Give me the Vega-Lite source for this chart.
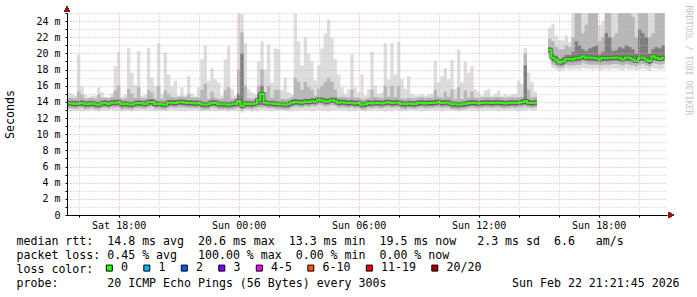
{
  "$schema": "https://vega.github.io/schema/vega-lite/v6.json",
  "width": 600,
  "height": 202,
  "autosize": "none",
  "padding": {"left": 67, "top": 13, "right": 30, "bottom": 82},
  "background": "white",
  "config": {"view": {"stroke": null}},
  "data": {"values": [
{"t":"2026-02-21T15:25:00Z","s":1,"lo":12.8,"l2":13.2,"l3":13.45,"md":13.8,"h3":14.15,"h2":14.5,"hi":15.2},
{"t":"2026-02-21T15:35:00Z","s":1,"lo":12.9,"l2":13.2,"l3":13.45,"md":13.8,"h3":14.15,"h2":14.5,"hi":15.0},
{"t":"2026-02-21T15:45:00Z","s":1,"lo":12.9,"l2":13.15,"l3":13.4,"md":13.75,"h3":14.1,"h2":14.45,"hi":14.8},
{"t":"2026-02-21T15:55:00Z","s":1,"lo":12.9,"l2":13.2,"l3":13.45,"md":13.8,"h3":14.15,"h2":15.3,"hi":19.9},
{"t":"2026-02-21T16:05:00Z","s":1,"lo":12.8,"l2":13.25,"l3":13.5,"md":13.85,"h3":14.2,"h2":14.9,"hi":15.9},
{"t":"2026-02-21T16:15:00Z","s":1,"lo":12.9,"l2":13.1,"l3":13.35,"md":13.7,"h3":14.05,"h2":14.4,"hi":14.9},
{"t":"2026-02-21T16:25:00Z","s":1,"lo":12.9,"l2":13.15,"l3":13.4,"md":13.75,"h3":14.1,"h2":14.45,"hi":14.6},
{"t":"2026-02-21T16:35:00Z","s":1,"lo":13.0,"l2":13.2,"l3":13.45,"md":13.8,"h3":14.15,"h2":14.5,"hi":14.8},
{"t":"2026-02-21T16:45:00Z","s":1,"lo":12.9,"l2":13.1,"l3":13.35,"md":13.7,"h3":14.05,"h2":14.4,"hi":14.8},
{"t":"2026-02-21T16:55:00Z","s":1,"lo":12.8,"l2":13.05,"l3":13.3,"md":13.65,"h3":14.0,"h2":14.9,"hi":15.8},
{"t":"2026-02-21T17:05:00Z","s":1,"lo":12.9,"l2":13.2,"l3":13.45,"md":13.8,"h3":14.15,"h2":14.5,"hi":15.2},
{"t":"2026-02-21T17:15:00Z","s":1,"lo":12.9,"l2":13.25,"l3":13.5,"md":13.85,"h3":14.2,"h2":14.5,"hi":14.6},
{"t":"2026-02-21T17:25:00Z","s":1,"lo":12.9,"l2":13.15,"l3":13.4,"md":13.75,"h3":14.1,"h2":14.45,"hi":14.6},
{"t":"2026-02-21T17:35:00Z","s":1,"lo":13.0,"l2":13.3,"l3":13.55,"md":13.9,"h3":14.25,"h2":14.6,"hi":15.0},
{"t":"2026-02-21T17:45:00Z","s":1,"lo":12.9,"l2":13.3,"l3":13.55,"md":13.9,"h3":14.25,"h2":15.4,"hi":18.4},
{"t":"2026-02-21T17:55:00Z","s":1,"lo":12.9,"l2":13.35,"l3":13.6,"md":13.95,"h3":14.3,"h2":16.0,"hi":20.2},
{"t":"2026-02-21T18:05:00Z","s":1,"lo":12.8,"l2":13.1,"l3":13.35,"md":13.7,"h3":14.05,"h2":14.4,"hi":14.6},
{"t":"2026-02-21T18:15:00Z","s":1,"lo":12.9,"l2":13.15,"l3":13.4,"md":13.75,"h3":14.1,"h2":14.45,"hi":14.9},
{"t":"2026-02-21T18:25:00Z","s":1,"lo":12.9,"l2":13.1,"l3":13.35,"md":13.7,"h3":14.05,"h2":15.6,"hi":20.7},
{"t":"2026-02-21T18:35:00Z","s":1,"lo":12.8,"l2":13.05,"l3":13.3,"md":13.65,"h3":14.0,"h2":15.0,"hi":17.6},
{"t":"2026-02-21T18:45:00Z","s":1,"lo":12.9,"l2":13.2,"l3":13.45,"md":13.8,"h3":14.15,"h2":14.5,"hi":16.1},
{"t":"2026-02-21T18:55:00Z","s":1,"lo":12.9,"l2":13.25,"l3":13.5,"md":13.85,"h3":14.2,"h2":15.8,"hi":20.3},
{"t":"2026-02-21T19:05:00Z","s":1,"lo":13.0,"l2":13.2,"l3":13.45,"md":13.8,"h3":14.15,"h2":14.5,"hi":14.7},
{"t":"2026-02-21T19:15:00Z","s":1,"lo":12.9,"l2":13.15,"l3":13.4,"md":13.75,"h3":14.1,"h2":14.45,"hi":14.9},
{"t":"2026-02-21T19:25:00Z","s":1,"lo":12.9,"l2":13.35,"l3":13.6,"md":13.95,"h3":14.3,"h2":15.5,"hi":20.7},
{"t":"2026-02-21T19:35:00Z","s":1,"lo":12.9,"l2":13.4,"l3":13.65,"md":14.0,"h3":14.35,"h2":15.2,"hi":17.0},
{"t":"2026-02-21T19:45:00Z","s":1,"lo":12.8,"l2":13.15,"l3":13.4,"md":13.75,"h3":14.1,"h2":14.45,"hi":16.0},
{"t":"2026-02-21T19:55:00Z","s":1,"lo":12.9,"l2":13.15,"l3":13.4,"md":13.75,"h3":14.1,"h2":16.0,"hi":21.3},
{"t":"2026-02-21T20:05:00Z","s":1,"lo":12.9,"l2":13.1,"l3":13.35,"md":13.7,"h3":14.05,"h2":14.4,"hi":15.0},
{"t":"2026-02-21T20:15:00Z","s":1,"lo":12.8,"l2":13.05,"l3":13.3,"md":13.65,"h3":14.0,"h2":15.4,"hi":20.1},
{"t":"2026-02-21T20:25:00Z","s":1,"lo":12.9,"l2":13.3,"l3":13.55,"md":13.9,"h3":14.25,"h2":15.0,"hi":17.4},
{"t":"2026-02-21T20:35:00Z","s":1,"lo":13.0,"l2":13.3,"l3":13.55,"md":13.9,"h3":14.25,"h2":14.6,"hi":15.9},
{"t":"2026-02-21T20:45:00Z","s":1,"lo":12.9,"l2":13.25,"l3":13.5,"md":13.85,"h3":14.2,"h2":14.55,"hi":16.6},
{"t":"2026-02-21T20:55:00Z","s":1,"lo":12.9,"l2":13.35,"l3":13.6,"md":13.95,"h3":14.3,"h2":14.65,"hi":14.8},
{"t":"2026-02-21T21:05:00Z","s":1,"lo":12.9,"l2":13.35,"l3":13.6,"md":13.95,"h3":14.3,"h2":14.65,"hi":15.8},
{"t":"2026-02-21T21:15:00Z","s":1,"lo":12.8,"l2":13.3,"l3":13.55,"md":13.9,"h3":14.25,"h2":14.6,"hi":14.8},
{"t":"2026-02-21T21:25:00Z","s":1,"lo":12.9,"l2":13.25,"l3":13.5,"md":13.85,"h3":14.2,"h2":15.0,"hi":17.2},
{"t":"2026-02-21T21:35:00Z","s":1,"lo":12.9,"l2":13.25,"l3":13.5,"md":13.85,"h3":14.2,"h2":14.55,"hi":15.0},
{"t":"2026-02-21T21:45:00Z","s":1,"lo":13.0,"l2":13.2,"l3":13.45,"md":13.8,"h3":14.15,"h2":14.5,"hi":14.7},
{"t":"2026-02-21T21:55:00Z","s":1,"lo":12.9,"l2":13.25,"l3":13.5,"md":13.85,"h3":14.2,"h2":14.55,"hi":15.8},
{"t":"2026-02-21T22:05:00Z","s":1,"lo":12.8,"l2":13.1,"l3":13.35,"md":13.7,"h3":14.05,"h2":15.5,"hi":19.3},
{"t":"2026-02-21T22:15:00Z","s":1,"lo":12.9,"l2":13.05,"l3":13.3,"md":13.65,"h3":14.0,"h2":16.2,"hi":21.0},
{"t":"2026-02-21T22:25:00Z","s":1,"lo":12.9,"l2":13.1,"l3":13.35,"md":13.7,"h3":14.05,"h2":14.4,"hi":16.6},
{"t":"2026-02-21T22:35:00Z","s":1,"lo":12.9,"l2":13.3,"l3":13.55,"md":13.9,"h3":14.25,"h2":15.3,"hi":18.2},
{"t":"2026-02-21T22:45:00Z","s":1,"lo":12.8,"l2":13.25,"l3":13.5,"md":13.85,"h3":14.2,"h2":14.55,"hi":16.8},
{"t":"2026-02-21T22:55:00Z","s":1,"lo":12.9,"l2":13.1,"l3":13.35,"md":13.7,"h3":14.05,"h2":14.4,"hi":16.4},
{"t":"2026-02-21T23:05:00Z","s":1,"lo":12.9,"l2":13.1,"l3":13.35,"md":13.7,"h3":14.05,"h2":14.4,"hi":14.8},
{"t":"2026-02-21T23:15:00Z","s":1,"lo":12.9,"l2":13.1,"l3":13.35,"md":13.7,"h3":14.05,"h2":15.5,"hi":19.3},
{"t":"2026-02-21T23:25:00Z","s":1,"lo":12.8,"l2":13.05,"l3":13.3,"md":13.65,"h3":14.0,"h2":15.8,"hi":20.9},
{"t":"2026-02-21T23:35:00Z","s":1,"lo":12.9,"l2":13.1,"l3":13.35,"md":13.7,"h3":14.05,"h2":14.4,"hi":15.6},
{"t":"2026-02-21T23:45:00Z","s":1,"lo":12.9,"l2":13.15,"l3":13.4,"md":13.75,"h3":14.1,"h2":14.45,"hi":14.8},
{"t":"2026-02-21T23:55:00Z","s":1,"lo":12.8,"l2":13.3,"l3":13.6,"md":14.1,"h3":15.0,"h2":18.0,"hi":24.9},
{"t":"2026-02-22T00:05:00Z","s":1,"lo":12.7,"l2":13.0,"l3":13.2,"md":13.5,"h3":20.0,"h2":22.6,"hi":24.9},
{"t":"2026-02-22T00:15:00Z","s":1,"lo":12.9,"l2":13.15,"l3":13.4,"md":13.75,"h3":14.1,"h2":16.0,"hi":21.3},
{"t":"2026-02-22T00:25:00Z","s":1,"lo":12.9,"l2":13.15,"l3":13.4,"md":13.75,"h3":14.1,"h2":14.45,"hi":15.6},
{"t":"2026-02-22T00:35:00Z","s":1,"lo":12.8,"l2":13.1,"l3":13.35,"md":13.7,"h3":14.05,"h2":14.4,"hi":15.2},
{"t":"2026-02-22T00:45:00Z","s":1,"lo":12.9,"l2":13.2,"l3":13.45,"md":13.8,"h3":14.15,"h2":14.5,"hi":15.0},
{"t":"2026-02-22T00:55:00Z","s":1,"lo":12.9,"l2":13.3,"l3":13.6,"md":14.2,"h3":15.0,"h2":16.0,"hi":19.0},
{"t":"2026-02-22T01:05:00Z","s":1,"lo":13.0,"l2":13.3,"l3":13.6,"md":15.0,"h3":16.0,"h2":18.0,"hi":21.5},
{"t":"2026-02-22T01:15:00Z","s":1,"lo":12.9,"l2":13.3,"l3":13.55,"md":13.9,"h3":14.25,"h2":15.2,"hi":18.0},
{"t":"2026-02-22T01:25:00Z","s":1,"lo":12.9,"l2":13.2,"l3":13.45,"md":13.8,"h3":14.15,"h2":16.0,"hi":21.1},
{"t":"2026-02-22T01:35:00Z","s":1,"lo":12.8,"l2":13.2,"l3":13.45,"md":13.8,"h3":14.15,"h2":14.5,"hi":16.4},
{"t":"2026-02-22T01:45:00Z","s":1,"lo":12.9,"l2":13.15,"l3":13.4,"md":13.75,"h3":14.1,"h2":15.5,"hi":20.6},
{"t":"2026-02-22T01:55:00Z","s":1,"lo":12.9,"l2":13.1,"l3":13.35,"md":13.7,"h3":14.05,"h2":15.5,"hi":20.5},
{"t":"2026-02-22T02:05:00Z","s":1,"lo":13.0,"l2":13.1,"l3":13.35,"md":13.7,"h3":14.05,"h2":14.4,"hi":15.5},
{"t":"2026-02-22T02:15:00Z","s":1,"lo":12.9,"l2":13.05,"l3":13.3,"md":13.65,"h3":14.0,"h2":14.35,"hi":17.0},
{"t":"2026-02-22T02:25:00Z","s":1,"lo":12.9,"l2":13.1,"l3":13.35,"md":13.7,"h3":14.05,"h2":14.4,"hi":15.2},
{"t":"2026-02-22T02:35:00Z","s":1,"lo":12.8,"l2":13.3,"l3":13.55,"md":13.9,"h3":14.25,"h2":14.6,"hi":14.9},
{"t":"2026-02-22T02:45:00Z","s":1,"lo":12.9,"l2":13.4,"l3":13.65,"md":14.0,"h3":14.35,"h2":17.0,"hi":24.9},
{"t":"2026-02-22T02:55:00Z","s":1,"lo":12.9,"l2":13.35,"l3":13.6,"md":13.95,"h3":14.3,"h2":16.5,"hi":21.5},
{"t":"2026-02-22T03:05:00Z","s":1,"lo":13.0,"l2":13.3,"l3":13.55,"md":13.9,"h3":14.25,"h2":15.5,"hi":18.5},
{"t":"2026-02-22T03:15:00Z","s":1,"lo":12.9,"l2":13.45,"l3":13.7,"md":14.05,"h3":14.4,"h2":16.5,"hi":22.0},
{"t":"2026-02-22T03:25:00Z","s":1,"lo":12.9,"l2":13.4,"l3":13.65,"md":14.0,"h3":14.35,"h2":15.8,"hi":20.0},
{"t":"2026-02-22T03:35:00Z","s":1,"lo":12.8,"l2":13.5,"l3":13.75,"md":14.1,"h3":14.45,"h2":15.5,"hi":19.0},
{"t":"2026-02-22T03:45:00Z","s":1,"lo":12.9,"l2":13.45,"l3":13.7,"md":14.05,"h3":14.4,"h2":14.75,"hi":16.6},
{"t":"2026-02-22T03:55:00Z","s":1,"lo":13.0,"l2":13.65,"l3":13.9,"md":14.25,"h3":14.6,"h2":15.6,"hi":18.5},
{"t":"2026-02-22T04:05:00Z","s":1,"lo":12.9,"l2":13.6,"l3":13.85,"md":14.2,"h3":14.55,"h2":16.0,"hi":20.6},
{"t":"2026-02-22T04:15:00Z","s":1,"lo":12.9,"l2":13.45,"l3":13.7,"md":14.05,"h3":14.4,"h2":16.5,"hi":22.5},
{"t":"2026-02-22T04:25:00Z","s":1,"lo":12.8,"l2":13.5,"l3":13.75,"md":14.1,"h3":14.45,"h2":17.0,"hi":24.2},
{"t":"2026-02-22T04:35:00Z","s":1,"lo":12.9,"l2":13.6,"l3":13.85,"md":14.2,"h3":14.55,"h2":16.5,"hi":21.9},
{"t":"2026-02-22T04:45:00Z","s":1,"lo":12.9,"l2":13.55,"l3":13.8,"md":14.15,"h3":14.5,"h2":15.5,"hi":19.3},
{"t":"2026-02-22T04:55:00Z","s":1,"lo":13.0,"l2":13.3,"l3":13.55,"md":13.9,"h3":14.25,"h2":14.6,"hi":17.4},
{"t":"2026-02-22T05:05:00Z","s":1,"lo":12.9,"l2":13.35,"l3":13.6,"md":13.95,"h3":14.3,"h2":14.65,"hi":15.8},
{"t":"2026-02-22T05:15:00Z","s":1,"lo":12.9,"l2":13.3,"l3":13.55,"md":13.9,"h3":14.25,"h2":14.6,"hi":15.0},
{"t":"2026-02-22T05:25:00Z","s":1,"lo":12.8,"l2":13.25,"l3":13.5,"md":13.85,"h3":14.2,"h2":14.55,"hi":15.6},
{"t":"2026-02-22T05:35:00Z","s":1,"lo":12.9,"l2":13.3,"l3":13.55,"md":13.9,"h3":14.25,"h2":15.5,"hi":19.9},
{"t":"2026-02-22T05:45:00Z","s":1,"lo":12.9,"l2":13.2,"l3":13.45,"md":13.8,"h3":14.15,"h2":14.5,"hi":15.8},
{"t":"2026-02-22T05:55:00Z","s":1,"lo":13.0,"l2":13.25,"l3":13.5,"md":13.85,"h3":14.2,"h2":14.55,"hi":15.2},
{"t":"2026-02-22T06:05:00Z","s":1,"lo":12.9,"l2":13.05,"l3":13.3,"md":13.65,"h3":14.0,"h2":14.35,"hi":17.4},
{"t":"2026-02-22T06:15:00Z","s":1,"lo":12.8,"l2":13.1,"l3":13.35,"md":13.7,"h3":14.05,"h2":14.4,"hi":14.8},
{"t":"2026-02-22T06:25:00Z","s":1,"lo":12.9,"l2":13.25,"l3":13.5,"md":13.85,"h3":14.2,"h2":14.55,"hi":15.6},
{"t":"2026-02-22T06:35:00Z","s":1,"lo":12.9,"l2":13.2,"l3":13.45,"md":13.8,"h3":14.15,"h2":15.5,"hi":20.2},
{"t":"2026-02-22T06:45:00Z","s":1,"lo":13.0,"l2":13.3,"l3":13.55,"md":13.9,"h3":14.25,"h2":14.6,"hi":16.0},
{"t":"2026-02-22T06:55:00Z","s":1,"lo":12.9,"l2":13.25,"l3":13.5,"md":13.85,"h3":14.2,"h2":14.55,"hi":15.0},
{"t":"2026-02-22T07:05:00Z","s":1,"lo":12.9,"l2":13.2,"l3":13.45,"md":13.8,"h3":14.15,"h2":14.5,"hi":15.2},
{"t":"2026-02-22T07:15:00Z","s":1,"lo":12.8,"l2":13.3,"l3":13.55,"md":13.9,"h3":14.25,"h2":16.0,"hi":21.3},
{"t":"2026-02-22T07:25:00Z","s":1,"lo":12.9,"l2":13.35,"l3":13.6,"md":13.95,"h3":14.3,"h2":14.65,"hi":16.8},
{"t":"2026-02-22T07:35:00Z","s":1,"lo":12.9,"l2":13.25,"l3":13.5,"md":13.85,"h3":14.2,"h2":16.0,"hi":21.3},
{"t":"2026-02-22T07:45:00Z","s":1,"lo":13.0,"l2":13.3,"l3":13.55,"md":13.9,"h3":14.25,"h2":14.6,"hi":17.4},
{"t":"2026-02-22T07:55:00Z","s":1,"lo":12.9,"l2":13.3,"l3":13.55,"md":13.9,"h3":14.25,"h2":16.0,"hi":21.4},
{"t":"2026-02-22T08:05:00Z","s":1,"lo":12.8,"l2":13.15,"l3":13.4,"md":13.75,"h3":14.1,"h2":14.45,"hi":16.8},
{"t":"2026-02-22T08:15:00Z","s":1,"lo":12.9,"l2":13.1,"l3":13.35,"md":13.7,"h3":14.05,"h2":14.4,"hi":15.6},
{"t":"2026-02-22T08:25:00Z","s":1,"lo":12.9,"l2":13.2,"l3":13.45,"md":13.8,"h3":14.15,"h2":14.5,"hi":17.2},
{"t":"2026-02-22T08:35:00Z","s":1,"lo":13.0,"l2":13.15,"l3":13.4,"md":13.75,"h3":14.1,"h2":14.45,"hi":15.0},
{"t":"2026-02-22T08:45:00Z","s":1,"lo":12.9,"l2":13.15,"l3":13.4,"md":13.75,"h3":14.1,"h2":14.45,"hi":14.8},
{"t":"2026-02-22T08:55:00Z","s":1,"lo":12.9,"l2":13.25,"l3":13.5,"md":13.85,"h3":14.2,"h2":14.55,"hi":14.8},
{"t":"2026-02-22T09:05:00Z","s":1,"lo":12.8,"l2":13.3,"l3":13.55,"md":13.9,"h3":14.25,"h2":14.6,"hi":15.0},
{"t":"2026-02-22T09:15:00Z","s":1,"lo":12.9,"l2":13.2,"l3":13.45,"md":13.8,"h3":14.15,"h2":14.5,"hi":14.7},
{"t":"2026-02-22T09:25:00Z","s":1,"lo":12.9,"l2":13.25,"l3":13.5,"md":13.85,"h3":14.2,"h2":14.55,"hi":14.9},
{"t":"2026-02-22T09:35:00Z","s":1,"lo":13.0,"l2":13.25,"l3":13.5,"md":13.85,"h3":14.2,"h2":14.55,"hi":15.0},
{"t":"2026-02-22T09:45:00Z","s":1,"lo":12.9,"l2":13.3,"l3":13.55,"md":13.9,"h3":14.25,"h2":15.5,"hi":19.1},
{"t":"2026-02-22T09:55:00Z","s":1,"lo":12.9,"l2":13.35,"l3":13.6,"md":13.95,"h3":14.3,"h2":14.65,"hi":16.4},
{"t":"2026-02-22T10:05:00Z","s":1,"lo":12.8,"l2":13.25,"l3":13.5,"md":13.85,"h3":14.2,"h2":14.55,"hi":17.2},
{"t":"2026-02-22T10:15:00Z","s":1,"lo":12.9,"l2":13.3,"l3":13.55,"md":13.9,"h3":14.25,"h2":15.3,"hi":18.2},
{"t":"2026-02-22T10:25:00Z","s":1,"lo":12.9,"l2":13.3,"l3":13.55,"md":13.9,"h3":14.25,"h2":14.6,"hi":16.8},
{"t":"2026-02-22T10:35:00Z","s":1,"lo":13.0,"l2":13.1,"l3":13.35,"md":13.7,"h3":14.05,"h2":15.5,"hi":19.2},
{"t":"2026-02-22T10:45:00Z","s":1,"lo":12.9,"l2":13.1,"l3":13.35,"md":13.7,"h3":14.05,"h2":14.4,"hi":15.6},
{"t":"2026-02-22T10:55:00Z","s":1,"lo":12.8,"l2":13.05,"l3":13.3,"md":13.65,"h3":14.0,"h2":15.8,"hi":20.5},
{"t":"2026-02-22T11:05:00Z","s":1,"lo":12.9,"l2":13.1,"l3":13.35,"md":13.7,"h3":14.05,"h2":14.4,"hi":16.4},
{"t":"2026-02-22T11:15:00Z","s":1,"lo":12.9,"l2":13.15,"l3":13.4,"md":13.75,"h3":14.1,"h2":15.4,"hi":19.0},
{"t":"2026-02-22T11:25:00Z","s":1,"lo":13.0,"l2":13.25,"l3":13.5,"md":13.85,"h3":14.2,"h2":14.55,"hi":17.6},
{"t":"2026-02-22T11:35:00Z","s":1,"lo":12.9,"l2":13.3,"l3":13.55,"md":13.9,"h3":14.25,"h2":15.3,"hi":18.4},
{"t":"2026-02-22T11:45:00Z","s":1,"lo":12.9,"l2":13.25,"l3":13.5,"md":13.85,"h3":14.2,"h2":14.55,"hi":15.6},
{"t":"2026-02-22T11:55:00Z","s":1,"lo":12.8,"l2":13.2,"l3":13.45,"md":13.8,"h3":14.15,"h2":14.5,"hi":15.3},
{"t":"2026-02-22T12:05:00Z","s":1,"lo":12.9,"l2":13.25,"l3":13.5,"md":13.85,"h3":14.2,"h2":14.55,"hi":14.8},
{"t":"2026-02-22T12:15:00Z","s":1,"lo":12.9,"l2":13.3,"l3":13.55,"md":13.9,"h3":14.25,"h2":14.6,"hi":15.4},
{"t":"2026-02-22T12:25:00Z","s":1,"lo":13.0,"l2":13.3,"l3":13.55,"md":13.9,"h3":14.25,"h2":14.6,"hi":15.6},
{"t":"2026-02-22T12:35:00Z","s":1,"lo":12.9,"l2":13.25,"l3":13.5,"md":13.85,"h3":14.2,"h2":14.55,"hi":14.7},
{"t":"2026-02-22T12:45:00Z","s":1,"lo":12.9,"l2":13.3,"l3":13.55,"md":13.9,"h3":14.25,"h2":14.6,"hi":15.0},
{"t":"2026-02-22T12:55:00Z","s":1,"lo":12.8,"l2":13.3,"l3":13.55,"md":13.9,"h3":14.25,"h2":14.6,"hi":15.4},
{"t":"2026-02-22T13:05:00Z","s":1,"lo":12.9,"l2":13.25,"l3":13.5,"md":13.85,"h3":14.2,"h2":14.55,"hi":14.7},
{"t":"2026-02-22T13:15:00Z","s":1,"lo":12.9,"l2":13.2,"l3":13.45,"md":13.8,"h3":14.15,"h2":14.5,"hi":15.0},
{"t":"2026-02-22T13:25:00Z","s":1,"lo":13.0,"l2":13.25,"l3":13.5,"md":13.85,"h3":14.2,"h2":14.55,"hi":14.8},
{"t":"2026-02-22T13:35:00Z","s":1,"lo":12.9,"l2":13.3,"l3":13.55,"md":13.9,"h3":14.25,"h2":14.6,"hi":14.9},
{"t":"2026-02-22T13:45:00Z","s":1,"lo":12.9,"l2":13.25,"l3":13.5,"md":13.85,"h3":14.2,"h2":14.55,"hi":15.0},
{"t":"2026-02-22T13:55:00Z","s":1,"lo":12.8,"l2":13.3,"l3":13.55,"md":13.9,"h3":14.25,"h2":14.6,"hi":16.6},
{"t":"2026-02-22T14:05:00Z","s":1,"lo":12.9,"l2":13.35,"l3":13.6,"md":13.95,"h3":14.3,"h2":14.65,"hi":16.2},
{"t":"2026-02-22T14:15:00Z","s":1,"lo":12.9,"l2":13.4,"l3":13.7,"md":14.1,"h3":18.5,"h2":20.0,"hi":20.7},
{"t":"2026-02-22T14:25:00Z","s":1,"lo":13.0,"l2":13.3,"l3":13.55,"md":13.9,"h3":14.25,"h2":15.5,"hi":17.6},
{"t":"2026-02-22T14:35:00Z","s":1,"lo":12.9,"l2":13.25,"l3":13.5,"md":13.85,"h3":14.2,"h2":14.55,"hi":16.5},
{"t":"2026-02-22T14:45:00Z","s":1,"lo":12.9,"l2":13.3,"l3":13.55,"md":13.9,"h3":14.25,"h2":14.6,"hi":15.3},
{"t":"2026-02-22T14:55:00Z","s":1,"lo":12.9,"l2":13.3,"l3":13.55,"md":13.9,"h3":14.25,"h2":14.6,"hi":15.3},
{"t":"2026-02-22T15:28:00Z","s":2,"lo":19.4,"l2":19.8,"l3":20.1,"md":20.4,"h3":20.8,"h2":21.8,"hi":23.2},
{"t":"2026-02-22T15:38:00Z","s":2,"lo":18.2,"l2":18.6,"l3":19.0,"md":19.45,"h3":19.9,"h2":21.5,"hi":23.6},
{"t":"2026-02-22T15:48:00Z","s":2,"lo":18.0,"l2":18.4,"l3":18.8,"md":19.2,"h3":19.7,"h2":20.8,"hi":22.2},
{"t":"2026-02-22T15:58:00Z","s":2,"lo":17.8,"l2":18.2,"l3":18.5,"md":18.85,"h3":19.3,"h2":20.5,"hi":21.7},
{"t":"2026-02-22T16:08:00Z","s":2,"lo":17.9,"l2":18.3,"l3":18.6,"md":19.0,"h3":19.5,"h2":20.5,"hi":21.6},
{"t":"2026-02-22T16:18:00Z","s":2,"lo":18.1,"l2":18.6,"l3":18.9,"md":19.35,"h3":19.8,"h2":21.0,"hi":22.2},
{"t":"2026-02-22T16:28:00Z","s":2,"lo":18.0,"l2":18.5,"l3":18.9,"md":19.3,"h3":19.8,"h2":20.8,"hi":21.4},
{"t":"2026-02-22T16:38:00Z","s":2,"lo":18.0,"l2":18.5,"l3":18.9,"md":19.25,"h3":20.2,"h2":22.0,"hi":25},
{"t":"2026-02-22T16:48:00Z","s":2,"lo":18.1,"l2":18.6,"l3":19.0,"md":19.45,"h3":21.5,"h2":25,"hi":25},
{"t":"2026-02-22T16:58:00Z","s":2,"lo":18.0,"l2":18.6,"l3":19.0,"md":19.45,"h3":21.0,"h2":25,"hi":25},
{"t":"2026-02-22T17:08:00Z","s":2,"lo":18.2,"l2":18.8,"l3":19.2,"md":19.65,"h3":20.5,"h2":22.5,"hi":25},
{"t":"2026-02-22T17:18:00Z","s":2,"lo":18.1,"l2":18.7,"l3":19.1,"md":19.45,"h3":20.3,"h2":23.5,"hi":25},
{"t":"2026-02-22T17:28:00Z","s":2,"lo":18.1,"l2":18.6,"l3":19.0,"md":19.5,"h3":20.6,"h2":25,"hi":25},
{"t":"2026-02-22T17:38:00Z","s":2,"lo":18.0,"l2":18.6,"l3":19.0,"md":19.45,"h3":20.8,"h2":25,"hi":25},
{"t":"2026-02-22T17:48:00Z","s":2,"lo":18.1,"l2":18.6,"l3":19.0,"md":19.4,"h3":21.0,"h2":25,"hi":25},
{"t":"2026-02-22T17:58:00Z","s":2,"lo":17.9,"l2":18.5,"l3":18.9,"md":19.25,"h3":19.9,"h2":21.5,"hi":23.5},
{"t":"2026-02-22T18:08:00Z","s":2,"lo":18.0,"l2":18.6,"l3":19.0,"md":19.45,"h3":20.2,"h2":22.0,"hi":24.0},
{"t":"2026-02-22T18:18:00Z","s":2,"lo":18.1,"l2":18.6,"l3":19.0,"md":19.4,"h3":22.5,"h2":25,"hi":25},
{"t":"2026-02-22T18:28:00Z","s":2,"lo":18.0,"l2":18.6,"l3":19.0,"md":19.45,"h3":22.0,"h2":25,"hi":25},
{"t":"2026-02-22T18:38:00Z","s":2,"lo":18.1,"l2":18.7,"l3":19.1,"md":19.45,"h3":20.3,"h2":22.0,"hi":25},
{"t":"2026-02-22T18:48:00Z","s":2,"lo":18.1,"l2":18.7,"l3":19.1,"md":19.5,"h3":20.4,"h2":22.5,"hi":25},
{"t":"2026-02-22T18:58:00Z","s":2,"lo":18.0,"l2":18.6,"l3":19.0,"md":19.45,"h3":20.8,"h2":25,"hi":25},
{"t":"2026-02-22T19:08:00Z","s":2,"lo":17.9,"l2":18.5,"l3":18.9,"md":19.25,"h3":20.6,"h2":25,"hi":25},
{"t":"2026-02-22T19:18:00Z","s":2,"lo":18.1,"l2":18.7,"l3":19.1,"md":19.5,"h3":21.0,"h2":25,"hi":25},
{"t":"2026-02-22T19:28:00Z","s":2,"lo":18.0,"l2":18.6,"l3":19.0,"md":19.45,"h3":20.8,"h2":25,"hi":25},
{"t":"2026-02-22T19:38:00Z","s":2,"lo":18.0,"l2":18.5,"l3":18.9,"md":19.25,"h3":20.5,"h2":24.5,"hi":25},
{"t":"2026-02-22T19:48:00Z","s":2,"lo":17.9,"l2":18.4,"l3":18.8,"md":19.1,"h3":20.0,"h2":22.0,"hi":25},
{"t":"2026-02-22T19:58:00Z","s":2,"lo":18.0,"l2":18.6,"l3":19.0,"md":19.45,"h3":23.0,"h2":25,"hi":25},
{"t":"2026-02-22T20:08:00Z","s":2,"lo":18.1,"l2":18.7,"l3":19.1,"md":19.5,"h3":22.5,"h2":25,"hi":25},
{"t":"2026-02-22T20:18:00Z","s":2,"lo":18.0,"l2":18.5,"l3":18.9,"md":19.25,"h3":22.0,"h2":25,"hi":25},
{"t":"2026-02-22T20:28:00Z","s":2,"lo":17.8,"l2":18.4,"l3":18.7,"md":19.05,"h3":20.0,"h2":22.0,"hi":25},
{"t":"2026-02-22T20:38:00Z","s":2,"lo":18.2,"l2":18.8,"l3":19.2,"md":19.65,"h3":20.5,"h2":22.5,"hi":25},
{"t":"2026-02-22T20:48:00Z","s":2,"lo":18.1,"l2":18.7,"l3":19.1,"md":19.45,"h3":20.8,"h2":25,"hi":25},
{"t":"2026-02-22T20:58:00Z","s":2,"lo":18.0,"l2":18.6,"l3":19.0,"md":19.3,"h3":20.6,"h2":25,"hi":25},
{"t":"2026-02-22T21:08:00Z","s":2,"lo":18.1,"l2":18.7,"l3":19.1,"md":19.45,"h3":21.0,"h2":25,"hi":25},
{"t":"2026-02-22T21:18:00Z","s":2,"lo":18.1,"l2":18.7,"l3":19.1,"md":19.45,"h3":21.0,"h2":25,"hi":25}
  ]},
  "layer": [
    {
      "mark": {"type": "area", "interpolate": "step-after", "color": "#dddddd", "opacity": 1},
      "encoding": {
        "x": {"field": "t", "type": "temporal",
          "scale": {"type": "utc", "nice": false, "domain": [1771687500000, 1771795500000]},
          "axis": {
            "title": [
              "median\u00a0rtt:\u00a0\u00a014.8\u00a0ms\u00a0avg\u00a0\u00a020.6\u00a0ms\u00a0max\u00a0\u00a013.3\u00a0ms\u00a0min\u00a0\u00a019.5\u00a0ms\u00a0now\u00a0\u00a0\u00a02.3\u00a0ms\u00a0sd\u00a0\u00a06.6\u00a0\u00a0\u00a0am/s",
              "packet\u00a0loss:\u00a00.45\u00a0%\u00a0avg\u00a0\u00a0\u00a0100.00\u00a0%\u00a0max\u00a0\u00a00.00\u00a0%\u00a0min\u00a0\u00a00.00\u00a0%\u00a0now",
              "loss\u00a0color:",
              "probe:\u00a0\u00a0\u00a0\u00a0\u00a0\u00a0\u00a020\u00a0ICMP\u00a0Echo\u00a0Pings\u00a0(56\u00a0Bytes)\u00a0every\u00a0300s\u00a0\u00a0\u00a0\u00a0\u00a0\u00a0\u00a0\u00a0\u00a0\u00a0\u00a0\u00a0\u00a0\u00a0\u00a0\u00a0\u00a0\u00a0Sun\u00a0Feb\u00a022\u00a021:21:45\u00a02026"
            ],
            "titleX": -51, "titleY": 20, "titleAlign": "left", "titleBaseline": "top",
            "titleFont": "DejaVu Sans Mono", "titleFontSize": 11.6, "titleFontWeight": "normal", "titleColor": "#000000", "titleLineHeight": 14,
            "values": [1771689600000,1771693200000,1771696800000,1771700400000,1771704000000,1771707600000,1771711200000,1771714800000,1771718400000,1771722000000,1771725600000,1771729200000,1771732800000,1771736400000,1771740000000,1771743600000,1771747200000,1771750800000,1771754400000,1771758000000,1771761600000,1771765200000,1771768800000,1771772400000,1771776000000,1771779600000,1771783200000,1771786800000,1771790400000,1771794000000],
            "labelExpr": "utchours(datum.value) % 6 == 0 ? utcFormat(datum.value, '%a %H:%M') : ''",
            "labelFont": "DejaVu Sans Mono", "labelFontSize": 10, "labelColor": "#000000", "labelPadding": 3,
            "labelOverlap": false, "labelFlush": false,
            "tickSize": 2, "tickColor": "#000000", "domainColor": "#000000", "domainWidth": 1,
            "grid": true,
            "gridColor": {"condition": {"test": "utchours(datum.value) % 3 == 0", "value": "#f2a0a0"}, "value": "#c4c4c4"},
            "gridDash": [1, 2], "gridWidth": 1, "gridOpacity": 1, "zindex": 1
          }
        },
        "y": {"field": "lo", "type": "quantitative",
          "scale": {"domain": [0, 25], "nice": false},
          "axis": {
            "title": "Seconds", "titleFont": "DejaVu Sans Mono", "titleFontSize": 11.6, "titleFontWeight": "normal", "titleColor": "#000000",
            "titleX": -57, "titleY": 101, "titleAngle": 270, "titleAlign": "center", "titleBaseline": "middle",
            "values": [0,1,2,3,4,5,6,7,8,9,10,11,12,13,14,15,16,17,18,19,20,21,22,23,24,25],
            "labelExpr": "datum.value == 0 ? '0' : (datum.value % 2 == 0 ? datum.value + ' m' : '')",
            "labelFont": "DejaVu Sans Mono", "labelFontSize": 10, "labelColor": "#000000", "labelPadding": 5,
            "labelOverlap": false, "labelFlush": false,
            "tickSize": 2, "tickColor": "#000000", "domainColor": "#000000", "domainWidth": 1,
            "grid": true,
            "gridColor": {"condition": {"test": "datum.value % 2 == 0", "value": "#f2a0a0"}, "value": "#c4c4c4"},
            "gridDash": [1, 2], "gridWidth": 1, "gridOpacity": 1, "zindex": 1
          }
        },
        "y2": {"field": "hi"},
        "detail": {"field": "s", "type": "nominal"}
      }
    },
    {
      "mark": {"type": "area", "interpolate": "step-after", "color": "#b7b7b7", "opacity": 1},
      "encoding": {
        "x": {"field": "t", "type": "temporal"},
        "y": {"field": "l2", "type": "quantitative", "axis": null},
        "y2": {"field": "h2"},
        "detail": {"field": "s", "type": "nominal"}
      }
    },
    {
      "mark": {"type": "area", "interpolate": "step-after", "color": "#7e7e7e", "opacity": 1},
      "encoding": {
        "x": {"field": "t", "type": "temporal"},
        "y": {"field": "l3", "type": "quantitative", "axis": null},
        "y2": {"field": "h3"},
        "detail": {"field": "s", "type": "nominal"}
      }
    },
    {
      "mark": {"type": "line", "interpolate": "step-after", "color": "#5a5a5a", "strokeWidth": 3.5, "opacity": 1},
      "encoding": {
        "x": {"field": "t", "type": "temporal"},
        "y": {"field": "md", "type": "quantitative", "axis": null},
        "detail": {"field": "s", "type": "nominal"}
      }
    },
    {
      "mark": {"type": "line", "interpolate": "step-after", "color": "#26ff00", "strokeWidth": 2, "opacity": 1},
      "encoding": {
        "x": {"field": "t", "type": "temporal"},
        "y": {"field": "md", "type": "quantitative",
          "axis": {"orient": "right", "title": "RRDTOOL / TOBI OETIKER", "labels": false, "ticks": false, "domain": false, "grid": false,
            "titleFont": "DejaVu Sans Mono", "titleFontSize": 8.3, "titleFontWeight": "normal", "titleColor": "#c4c4c4",
            "titleAngle": 90, "titleX": 20, "titleY": -8, "titleAlign": "left", "titleBaseline": "middle"}
        },
        "detail": {"field": "s", "type": "nominal"}
      }
    },
    {
      "mark": {"type": "square", "opacity": 0, "size": 1},
      "encoding": {
        "x": {"field": "t", "type": "temporal"},
        "y": {"field": "md", "type": "quantitative", "axis": null},
        "color": {"datum": "0", "type": "nominal",
          "scale": {"domain": ["0", "1", "2", "3", "4-5", "6-10", "11-19", "20/20"],
                    "range": ["#26ff00", "#00b8ff", "#0059ff", "#7e00ff", "#ff00ff", "#ff5500", "#ff0000", "#a10000"]},
          "legend": {"orient": "none", "legendX": 36.5, "legendY": 249, "direction": "horizontal", "title": null,
            "symbolType": "square", "symbolSize": 36, "symbolOpacity": 1, "symbolStrokeWidth": 1, "symbolStrokeColor": "#000000",
            "labelFont": "DejaVu Sans Mono", "labelFontSize": 11.6, "labelColor": "#000000", "labelOffset": 6, "columnPadding": 12.5}
        }
      }
    },
    {
      "mark": {"type": "point", "shape": "triangle-up", "filled": true, "size": 34, "color": "#8b1a1a", "opacity": 1, "yOffset": -4},
      "encoding": {
        "x": {"datum": 1771687500000, "type": "temporal"},
        "y": {"datum": 25, "type": "quantitative", "axis": null}
      }
    },
    {
      "mark": {"type": "point", "shape": "triangle-right", "filled": true, "size": 34, "color": "#8b1a1a", "opacity": 1, "xOffset": 4},
      "encoding": {
        "x": {"datum": 1771795500000, "type": "temporal"},
        "y": {"datum": 0, "type": "quantitative", "axis": null}
      }
    }
  ],
  "resolve": {"axis": {"y": "independent"}}
}
